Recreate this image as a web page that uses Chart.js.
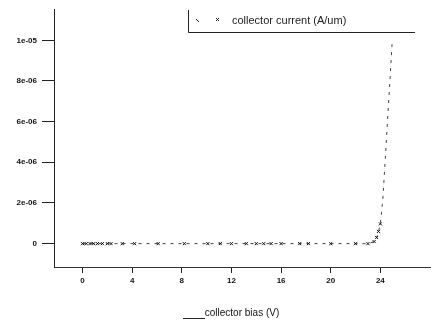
<!DOCTYPE html>
<html>
<head>
<meta charset="utf-8">
<script src="https://cdn.jsdelivr.net/npm/chart.js@4/dist/chart.umd.min.js"></script>
<style>
  html, body { margin: 0; padding: 0; background: #fff; }
  #wrap { width: 435px; height: 323px; }
</style>
</head>
<body>
<div id="wrap"><canvas id="ivChart" width="435" height="323"></canvas></div>
<script>
// collector bias sweep (V) and collector current (A/um)
const biasV = [0, 0.3, 0.6, 0.9, 1.2, 1.6, 2.0, 2.3, 3.2, 4.2, 6.1, 8.2, 10.1, 11.1, 12.0,
  13.2, 14.0, 14.6, 15.2, 16.0, 17.5, 18.2, 20.0, 22.0, 23.0, 23.5, 23.7, 23.85, 24.0,
  24.2, 24.4, 24.6, 24.8, 24.96];
const collectorCurrent = [0, 0, 0, 0, 0, 0, 0, 0, 0, 0, 0, 0, 0, 0, 0,
  0, 0, 0, 0, 0, 0, 0, 0, 0, 0, 0.1e-6, 0.3e-6, 0.6e-6, 0.97e-6,
  2.2e-6, 4.2e-6, 6.3e-6, 8.3e-6, 1.0e-5];
const xTickValues = [0, 4, 8, 12, 16, 20, 24];
const yTickValues = [0, 2e-6, 4e-6, 6e-6, 8e-6, 1e-5];
const seriesLabel = "collector current (A/um)";
const xTitle = "collector bias (V)";

function expLabel(v) {
  if (v === 0) return "0";
  const parts = v.toExponential(0).split("e");
  const e = parseInt(parts[1], 10);
  return parts[0] + "e" + (e < 0 ? "-" : "+") + String(Math.abs(e)).padStart(2, "0");
}

// legend box drawn by hand, the way the old plot tool put it
const boxLegend = {
  id: "boxLegend",
  afterDraw(chart) {
    const ctx = chart.ctx;
    ctx.save();
    ctx.strokeStyle = "#222";
    ctx.lineWidth = 1;
    ctx.beginPath();
    ctx.moveTo(188.5, 10);
    ctx.lineTo(188.5, 32.5);
    ctx.lineTo(415, 32.5);
    ctx.stroke();
    // sample markers
    ctx.fillStyle = "#222";
    ctx.beginPath();
    ctx.moveTo(196, 19); ctx.lineTo(199, 22);
    ctx.moveTo(216, 18); ctx.lineTo(219, 21);
    ctx.moveTo(219, 18); ctx.lineTo(216, 21);
    ctx.stroke();
    ctx.font = "11px 'Liberation Sans', Arial, sans-serif";
    ctx.textBaseline = "middle";
    ctx.fillText(chart.data.datasets[0].label, 232, 21);
    // short underline at the x title
    ctx.beginPath();
    ctx.moveTo(183, 318.5);
    ctx.lineTo(205, 318.5);
    ctx.stroke();
    ctx.restore();
  }
};

const points = biasV.map((v, i) => ({ x: v, y: collectorCurrent[i] }));

new Chart(document.getElementById("ivChart"), {
  type: "scatter",
  data: {
    datasets: [{
      label: seriesLabel,
      data: points,
      showLine: true,
      borderColor: "#444",
      borderWidth: 1,
      borderDash: [3, 5],
      pointStyle: "crossRot",
      // the steep part of the curve shows only the line
      pointRadius: ctx => (ctx.raw && ctx.raw.y > 1.5e-6 ? 0 : 2.2),
      pointBorderColor: "#111",
      pointBorderWidth: 1,
      fill: false
    }]
  },
  plugins: [boxLegend],
  options: {
    responsive: false,
    animation: false,
    devicePixelRatio: 1,
    layout: { padding: { top: 5, right: 2, left: 0, bottom: 0 } },
    plugins: { legend: { display: false }, tooltip: { enabled: false } },
    scales: {
      x: {
        type: "linear",
        min: -2.3,
        max: 28,
        afterFit(scale) { scale.height = 56; },
        afterBuildTicks(scale) { scale.ticks = xTickValues.map(v => ({ value: v })); },
        border: { color: "#333", width: 1 },
        grid: { drawOnChartArea: false, drawTicks: true, tickLength: 6, color: "#222" },
        ticks: {
          color: "#111",
          padding: 3,
          maxRotation: 0,
          font: { family: "'Liberation Sans', Arial, sans-serif", size: 8, weight: "bold" }
        },
        title: {
          display: true,
          text: xTitle,
          color: "#111",
          padding: { top: 4, bottom: 4 },
          font: { family: "'Liberation Sans', Arial, sans-serif", size: 10 }
        }
      },
      y: {
        type: "linear",
        min: -1.15e-6,
        max: 1.15e-5,
        afterFit(scale) { scale.width = 54; },
        afterBuildTicks(scale) { scale.ticks = yTickValues.map(v => ({ value: v })); },
        border: { color: "#222", width: 1 },
        grid: { drawOnChartArea: false, drawTicks: true, tickLength: 12, color: "#222" },
        ticks: {
          color: "#111",
          padding: 5,
          callback: v => expLabel(v),
          font: { family: "'Liberation Sans', Arial, sans-serif", size: 8, weight: "bold" }
        }
      }
    }
  }
});
</script>
</body>
</html>
